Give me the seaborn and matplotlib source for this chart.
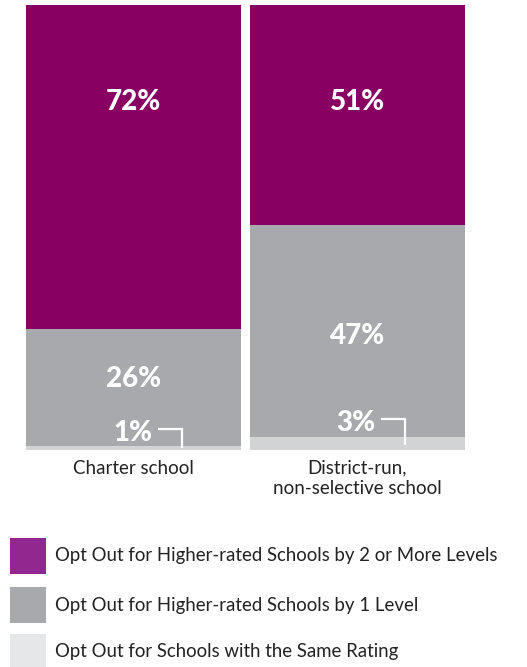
import matplotlib
matplotlib.use("Agg")
import matplotlib.pyplot as plt
from matplotlib.patches import Rectangle
import seaborn as sns
import pandas as pd

# Share of opt-outs by the rating gap of the chosen school
categories = ["Charter school", "District-run,\nnon-selective school"]
same_rating = [1, 3]
higher_by_1 = [26, 47]
higher_by_2_plus = [72, 51]

series_labels = [
    "Opt Out for Higher-rated Schools by 2 or More Levels",
    "Opt Out for Higher-rated Schools by 1 Level",
    "Opt Out for Schools with the Same Rating",
]

bar_colors = ["#880061", "#A7A9AC", "#D1D3D4"]
legend_colors = ["#92278F", "#A7A9AC", "#E6E7E8"]

sns.set_theme(style="white")
plt.rcParams["font.family"] = ["Lato", "DejaVu Sans"]

W, H, DPI = 527, 667, 100
fig = plt.figure(figsize=(W / DPI, H / DPI), dpi=DPI)

# plot area in pixel terms
x0, x1, y_top, y_bot = 26, 465, 5, 450
ax = fig.add_axes([x0 / W, (H - y_bot) / H, (x1 - x0) / W, (y_bot - y_top) / H])

df = pd.DataFrame({
    "category": categories,
    "same": same_rating,
    "one": higher_by_1,
    "two_plus": higher_by_2_plus,
})
df["cum_same"] = df["same"]
df["cum_one"] = df["same"] + df["one"]
df["cum_all"] = df["cum_one"] + df["two_plus"]

bar_w = 0.962
# stacked look: draw cumulative totals back to front
for col, color in zip(["cum_all", "cum_one", "cum_same"], bar_colors):
    sns.barplot(data=df, x="category", y=col, color=color, width=bar_w,
                saturation=1, ax=ax, linewidth=0)

ax.set_xlim(-bar_w / 2, 1 + bar_w / 2)
ax.set_ylim(0, 99)
ax.set_ylabel("")
ax.set_xlabel("")
ax.set_yticks([])
for s in ax.spines.values():
    s.set_visible(False)
ax.tick_params(axis="x", length=0, pad=7, labelsize=13.5, colors="#222222")
ax.set_xticks(range(len(categories)))
ax.set_xticklabels(categories, linespacing=1.2)

lab_kw = dict(color="white", fontweight="black", fontsize=20, ha="center", va="center")
one_offset = [1.8, -1.1]
for i in range(len(categories)):
    # top segment label sits in the upper part of the bar
    ax.text(i, 77.5, f"{higher_by_2_plus[i]}%", **lab_kw)
    mid_one = same_rating[i] + higher_by_1[i] / 2
    ax.text(i, mid_one + one_offset[i], f"{higher_by_1[i]}%", **lab_kw)

# small bottom-segment labels with a bracket pointing into the thin band
small_y = [3.7, 5.9]
for i in range(len(categories)):
    ax.text(i - 0.005, small_y[i], f"{same_rating[i]}%", **lab_kw)
    hx0 = i + 0.107
    hx1 = i + 0.214
    hy = small_y[i] + 0.9
    ax.plot([hx0, hx1, hx1], [hy, hy, same_rating[i] * 0.4],
            color="white", lw=1.6, solid_capstyle="butt", solid_joinstyle="miter")

# legend drawn as swatches with labels
lax = fig.add_axes([0, 0, 1, 1])
lax.set_xlim(0, W)
lax.set_ylim(H, 0)
lax.axis("off")
sw_tops = [538, 587, 634]
for top, color, label in zip(sw_tops, legend_colors, series_labels):
    lax.add_patch(Rectangle((10, top), 36, 36, facecolor=color, edgecolor="none"))
    lax.text(55, top + 18, label, fontsize=13.4, color="#222222", va="center", ha="left")

fig.savefig("out.png", dpi=DPI)
